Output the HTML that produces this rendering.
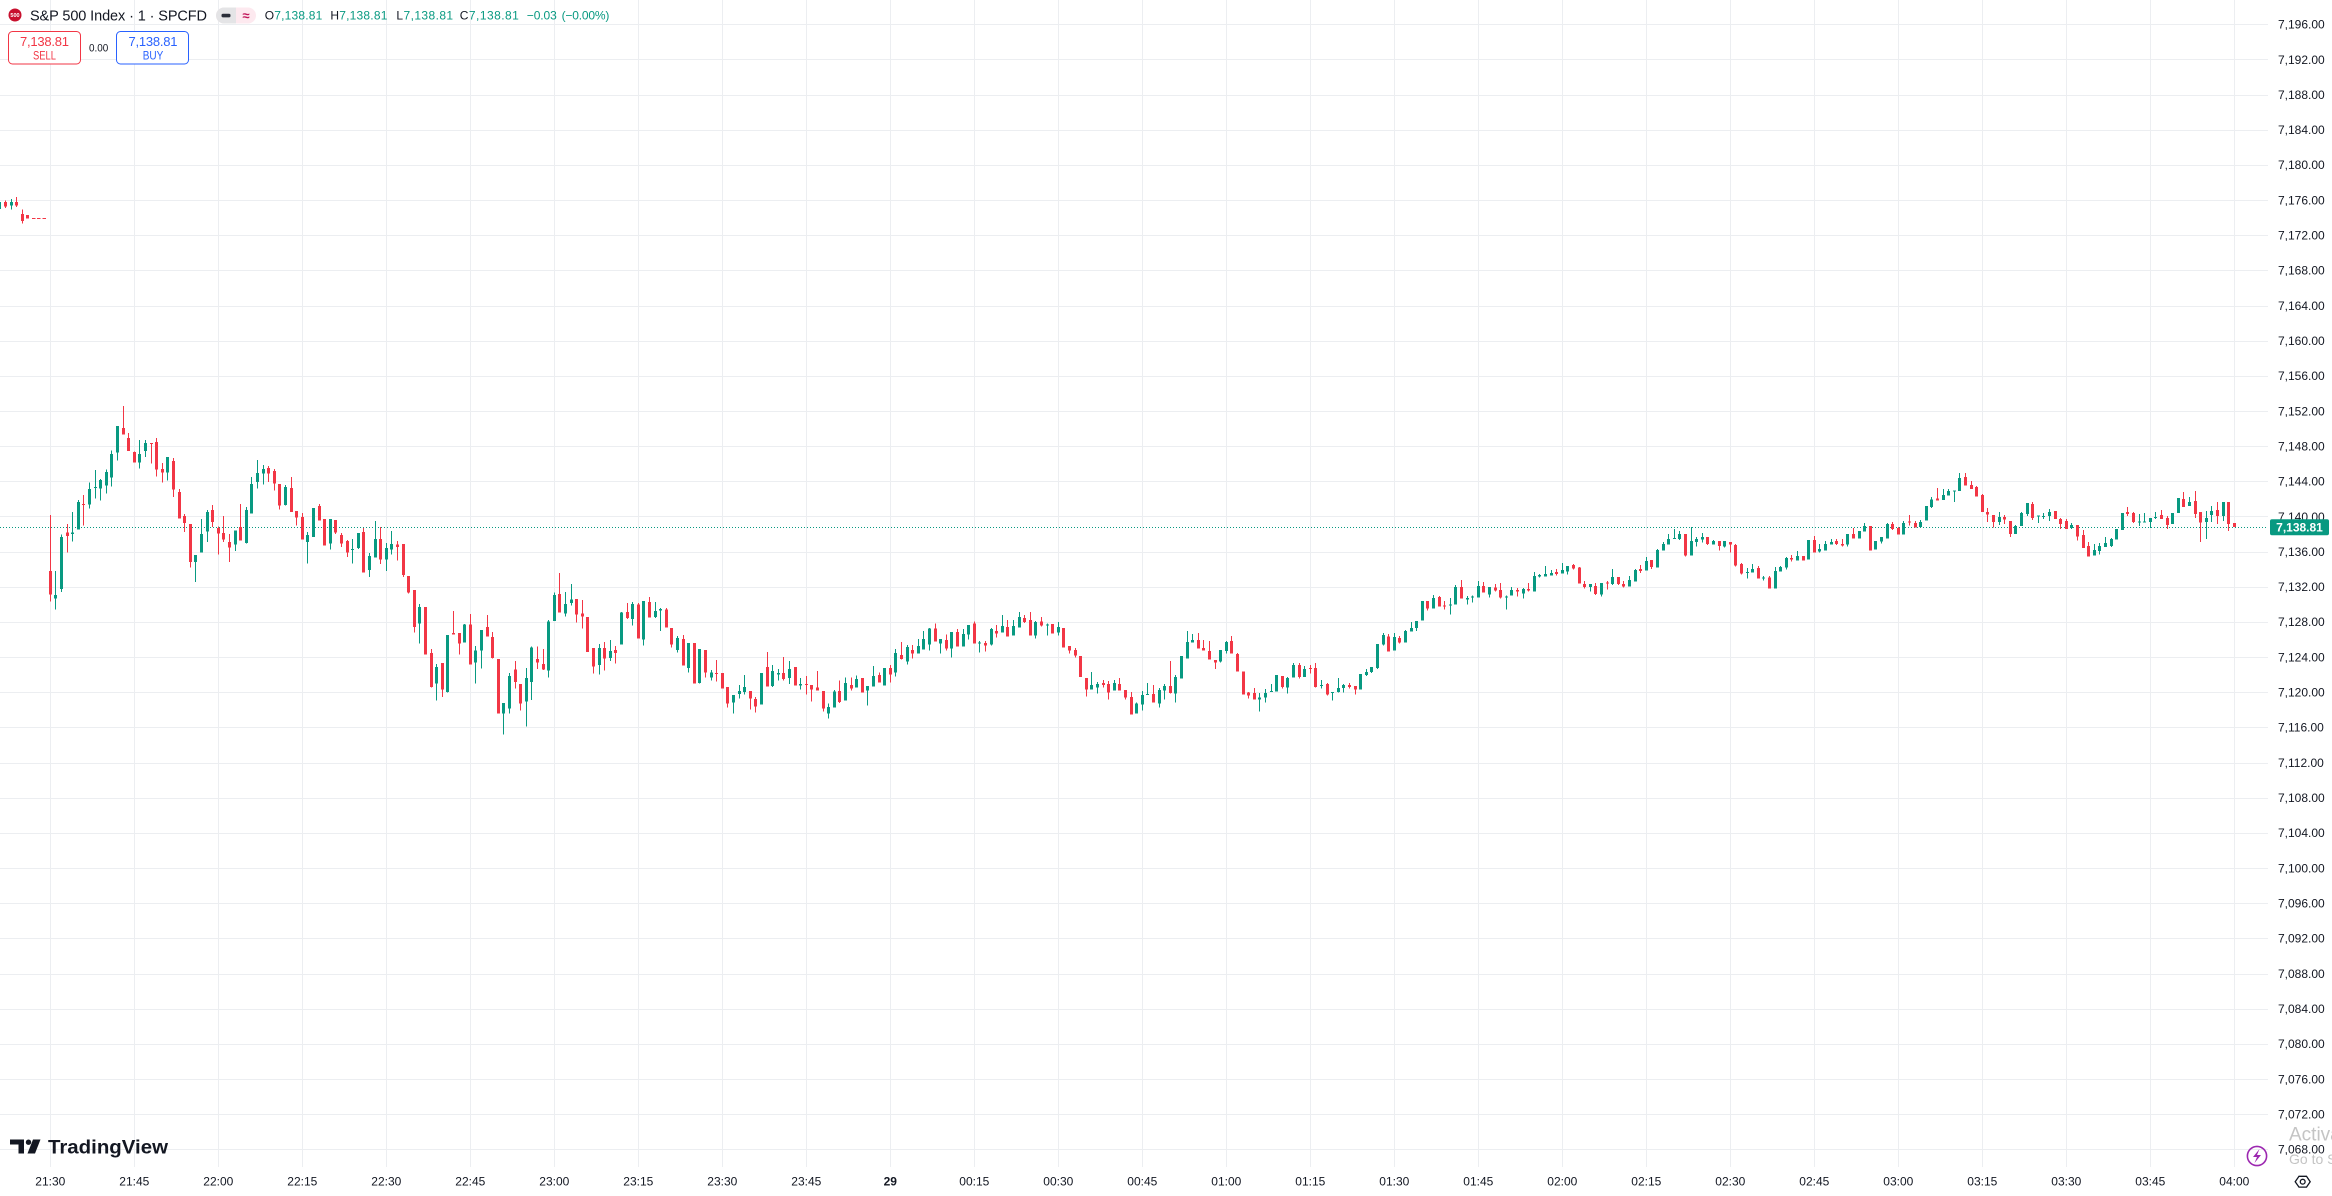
<!DOCTYPE html>
<html><head><meta charset="utf-8">
<style>
html,body{margin:0;padding:0;background:#fff;width:2332px;height:1196px;overflow:hidden;}
svg{position:absolute;left:0;top:0;}
svg text{font-family:"Liberation Sans",Arial,sans-serif;}
</style></head><body>
<svg id="s" width="2332" height="1196" viewBox="0 0 2332 1196">
<rect x="0" y="0" width="2332" height="1196" fill="#ffffff"/>
<g id="grid" shape-rendering="crispEdges"></g>
<line x1="0" y1="527.5" x2="2268" y2="527.5" stroke="#089981" stroke-width="1" stroke-dasharray="1 2" shape-rendering="crispEdges"/>
<line x1="32" y1="218.5" x2="47" y2="218.5" stroke="#f23645" stroke-width="1" stroke-dasharray="3.5 1.7" shape-rendering="crispEdges"/>
<g id="cd" shape-rendering="crispEdges"></g>

<!-- header -->
<circle cx="15" cy="15" r="6.5" fill="#c8102e"/>
<text x="15" y="17" font-size="5.5" font-weight="bold" fill="#fff" text-anchor="middle">500</text>
<text x="30" y="20.7" font-size="14.5" fill="#131722" textLength="177">S&amp;P 500 Index · 1 · SPCFD</text>
<rect x="216" y="7.5" width="40" height="16" rx="8" fill="#fde9ef"/>
<path d="M224,7.5 H236 V23.5 H224 A8,8 0 0 1 224,7.5 Z" fill="#e4e4e6"/>
<rect x="221.5" y="13.8" width="9" height="3.6" rx="1.5" fill="#2a2e39"/>
<text x="246" y="20" font-size="13" font-weight="bold" fill="#c2185b" text-anchor="middle">≈</text>
<text x="264.7" y="19.7" font-size="12" textLength="57.6"><tspan fill="#131722">O</tspan><tspan fill="#089981">7,138.81</tspan></text>
<text x="330.4" y="19.7" font-size="12" textLength="57"><tspan fill="#131722">H</tspan><tspan fill="#089981">7,138.81</tspan></text>
<text x="396.4" y="19.7" font-size="12" textLength="56.7"><tspan fill="#131722">L</tspan><tspan fill="#089981">7,138.81</tspan></text>
<text x="459.8" y="19.7" font-size="12" textLength="59"><tspan fill="#131722">C</tspan><tspan fill="#089981">7,138.81</tspan></text>
<text x="526.8" y="19.7" font-size="12" fill="#089981" textLength="30">−0.03</text>
<text x="561.6" y="19.7" font-size="12" fill="#089981" textLength="47.8">(−0.00%)</text>

<rect x="8.5" y="31.5" width="72" height="32.5" rx="4" fill="#fff" stroke="#f23645" stroke-width="1"/>
<text x="44.5" y="46" font-size="13" fill="#f23645" text-anchor="middle" textLength="49">7,138.81</text>
<text x="44.5" y="59.3" font-size="11.5" fill="#f23645" text-anchor="middle" textLength="23" lengthAdjust="spacingAndGlyphs">SELL</text>
<text x="89" y="51.7" font-size="11" fill="#131722" textLength="19.3" lengthAdjust="spacingAndGlyphs">0.00</text>
<rect x="116.5" y="31.5" width="72" height="32.5" rx="4" fill="#fff" stroke="#2962ff" stroke-width="1"/>
<text x="153" y="46" font-size="13" fill="#2962ff" text-anchor="middle" textLength="49">7,138.81</text>
<text x="153" y="59.3" font-size="11.5" fill="#2962ff" text-anchor="middle" textLength="20.6" lengthAdjust="spacingAndGlyphs">BUY</text>

<!-- price axis labels -->
<g font-size="12" fill="#131722">
<text x="2278" y="28.6">7,196.00</text>
<text x="2278" y="63.8">7,192.00</text>
<text x="2278" y="98.9">7,188.00</text>
<text x="2278" y="134.1">7,184.00</text>
<text x="2278" y="169.2">7,180.00</text>
<text x="2278" y="204.4">7,176.00</text>
<text x="2278" y="239.5">7,172.00</text>
<text x="2278" y="274.7">7,168.00</text>
<text x="2278" y="309.8">7,164.00</text>
<text x="2278" y="345.0">7,160.00</text>
<text x="2278" y="380.2">7,156.00</text>
<text x="2278" y="415.3">7,152.00</text>
<text x="2278" y="450.5">7,148.00</text>
<text x="2278" y="485.6">7,144.00</text>
<text x="2278" y="520.8">7,140.00</text>
<text x="2278" y="555.9">7,136.00</text>
<text x="2278" y="591.1">7,132.00</text>
<text x="2278" y="626.2">7,128.00</text>
<text x="2278" y="661.4">7,124.00</text>
<text x="2278" y="696.6">7,120.00</text>
<text x="2278" y="731.7">7,116.00</text>
<text x="2278" y="766.9">7,112.00</text>
<text x="2278" y="802.0">7,108.00</text>
<text x="2278" y="837.2">7,104.00</text>
<text x="2278" y="872.3">7,100.00</text>
<text x="2278" y="907.5">7,096.00</text>
<text x="2278" y="942.7">7,092.00</text>
<text x="2278" y="977.8">7,088.00</text>
<text x="2278" y="1013.0">7,084.00</text>
<text x="2278" y="1048.1">7,080.00</text>
<text x="2278" y="1083.3">7,076.00</text>
<text x="2278" y="1118.4">7,072.00</text>
<text x="2278" y="1153.6">7,068.00</text>
</g>
<rect x="2270" y="519.3" width="59" height="16" rx="2" fill="#089981"/>
<text x="2299.5" y="531.6" font-size="12" font-weight="bold" fill="#fff" text-anchor="middle">7,138.81</text>

<!-- time axis labels -->
<g font-size="12" fill="#131722" text-anchor="middle">
<text x="50.3" y="1185.3">21:30</text>
<text x="134.3" y="1185.3">21:45</text>
<text x="218.3" y="1185.3">22:00</text>
<text x="302.3" y="1185.3">22:15</text>
<text x="386.3" y="1185.3">22:30</text>
<text x="470.3" y="1185.3">22:45</text>
<text x="554.3" y="1185.3">23:00</text>
<text x="638.3" y="1185.3">23:15</text>
<text x="722.3" y="1185.3">23:30</text>
<text x="806.3" y="1185.3">23:45</text>
<text x="890.3" y="1185.3" font-weight="bold">29</text>
<text x="974.3" y="1185.3">00:15</text>
<text x="1058.3" y="1185.3">00:30</text>
<text x="1142.3" y="1185.3">00:45</text>
<text x="1226.3" y="1185.3">01:00</text>
<text x="1310.3" y="1185.3">01:15</text>
<text x="1394.3" y="1185.3">01:30</text>
<text x="1478.3" y="1185.3">01:45</text>
<text x="1562.3" y="1185.3">02:00</text>
<text x="1646.3" y="1185.3">02:15</text>
<text x="1730.3" y="1185.3">02:30</text>
<text x="1814.3" y="1185.3">02:45</text>
<text x="1898.3" y="1185.3">03:00</text>
<text x="1982.3" y="1185.3">03:15</text>
<text x="2066.3" y="1185.3">03:30</text>
<text x="2150.3" y="1185.3">03:45</text>
<text x="2234.3" y="1185.3">04:00</text>
</g>

<!-- TradingView logo -->
<path d="M10,1139.5 H24 V1153.5 H18.5 V1144.5 H10 Z" fill="#131722"/>
<circle cx="28.5" cy="1142.2" r="2.7" fill="#131722"/>
<path d="M33,1139.5 H40.5 L35,1153.5 H27.5 Z" fill="#131722"/>
<text x="48" y="1153.5" font-size="19" font-weight="bold" fill="#131722" textLength="120" lengthAdjust="spacingAndGlyphs">TradingView</text>

<!-- bottom right -->
<text x="2289" y="1140.7" font-size="19" fill="#c4c4c4">Activate Windows</text>
<text x="2289" y="1164" font-size="14" fill="#c4c4c4">Go to Settings to activate Windows.</text>
<circle cx="2257" cy="1156" r="9.6" fill="none" stroke="#9c27b0" stroke-width="1.6"/>
<path d="M2259.5,1149 L2253,1157 H2257 L2254.5,1163 L2261,1155 H2257 Z" fill="#9c27b0"/>
<polygon points="2295.2,1181.7 2299,1176.3 2306.5,1176.3 2310.2,1181.7 2306.5,1187.1 2299,1187.1" fill="none" stroke="#131722" stroke-width="1.3"/>
<circle cx="2302.7" cy="1181.7" r="2.4" fill="none" stroke="#131722" stroke-width="1.3"/>
</svg>
<script>
(function(){
var GC='#eceef1',g='';
for(var k=0;k<33;k++){var y=Math.round(24.3+35.156*k);g+='<rect x="0" y="'+y+'" width="2268" height="1" fill="'+GC+'"/>';}
for(var k=0;k<27;k++){var x=Math.round(50.3+84*k);g+='<rect x="'+x+'" y="0" width="1" height="1167" fill="'+GC+'"/>';}
document.getElementById('grid').innerHTML=g;

var PRE=[[-9,1,62,82,60,84],[-8,0,62,75,57,78],[-7,1,62,72,53,83],[-6,0,62,72,47,75],[-5,0,95,115,82,122],[-4,0,98,108,98,108]];
var A=[[0,1095,1160,938,1180],[1,1162,1172,1095,1203],[1,1000,1145,992,1153],[0,987,997,963,1043],[1,987,991,930,1013],[1,902,979,896,979],[0,907,910,882,968],[1,865,909,847,920],[1,860,862,812,892],[1,840,864,837,898],
[1,818,856,810,878],[1,767,833,757,858],[1,689,763,689,786],[0,694,713,633,713],[0,722,758,708,758],[0,762,791,760,791],[1,767,791,728,808],[1,736,758,728,775],[0,736,738,736,793],[0,734,811,722,830],
[0,809,819,792,847],[1,776,819,776,842],[0,787,867,778,888],[0,874,948,865,948],[0,941,961,935,985],[0,963,1070,963,1085],[1,1050,1069,1050,1125],[1,991,1043,949,1043],[1,930,985,924,1013],[0,924,957,910,972],
[0,974,990,970,1049],[0,988,1007,941,1014],[0,1014,1029,991,1069],[1,981,1021,981,1038],[0,972,1010,907,1010],[1,924,1016,916,1018],[1,851,934,832,934],[1,820,845,784,864],[1,809,822,798,853],[0,806,822,801,845],
[0,815,850,809,870],[0,851,912,851,923],[1,859,910,854,912],[0,862,930,832,930],[0,927,945,927,968],[0,944,1007,932,1007],[1,994,1013,986,1074],[1,918,999,918,999],[0,913,954,907,954],[0,949,1024,949,1024],
[1,949,1018,949,1035],[0,952,987,952,991],[0,994,1018,988,1027],[0,1011,1043,1008,1055],[1,1033,1035,1005,1074],[1,988,1030,988,1033],[0,986,1099,975,1099],[1,1053,1092,1044,1111],[1,1005,1057,955,1057],[0,1005,1063,972,1075],
[1,1030,1063,1016,1094],[1,1019,1035,983,1049],[0,1020,1027,1011,1066],[0,1019,1106,1019,1111],[0,1109,1155,1109,1158],[0,1148,1251,1148,1267],[1,1195,1242,1187,1298],[0,1195,1329,1195,1329],[0,1324,1419,1313,1421],[1,1364,1410,1355,1458],
[0,1352,1427,1352,1447],[1,1274,1433,1274,1435],[0,1268,1272,1207,1272],[0,1268,1297,1268,1329],[1,1245,1295,1243,1295],[0,1245,1357,1215,1357],[1,1318,1351,1305,1410],[1,1260,1318,1260,1368],[0,1251,1278,1218,1278],[0,1280,1338,1266,1340],
[0,1341,1494,1341,1494],[1,1464,1494,1464,1553],[1,1389,1480,1380,1494],[0,1370,1405,1347,1424]];
var B=[[0,732,791,732,812],[1,714,785,684,860],[1,623,726,620,780],[0,657,668,620,687],[0,672,688,627,690],[1,545,692,540,713],
[1,465,543,457,543],[0,462,518,399,518],[1,492,521,456,530],[1,478,489,432,497],[0,477,524,477,548],[0,521,530,480,566],[0,531,636,531,636],[0,624,680,624,701],[1,624,675,612,704],[0,624,656,606,692],
[1,633,654,600,663],[0,630,639,618,671],[1,518,614,516,614],[0,516,534,489,537],[1,492,537,486,557],[0,494,596,489,596],[1,483,599,483,617],[0,486,533,471,533],[1,513,531,486,534],[1,507,512,504,573],
[0,509,563,504,563],[0,564,614,564,623],[1,594,630,588,638],[0,597,677,585,677],[1,609,684,609,698],[0,609,731,609,731],[1,627,729,627,731],[0,630,698,630,713],[1,697,713,690,722],[0,699,701,660,725],
[0,699,746,699,746],[0,741,791,741,803],[1,765,788,765,821],[1,753,762,735,776],[1,741,756,705,764],[0,753,776,753,809],[0,777,800,771,818],[1,699,794,699,794],[0,681,740,636,740],[1,693,738,675,741],
[1,699,704,687,722],[0,699,717,651,722],[1,687,714,663,732],[0,681,737,681,737],[1,732,737,714,749],[0,732,734,708,764],[0,735,749,735,785],[0,743,752,693,752],[0,753,806,753,815],[1,801,821,791,836],
[1,755,803,750,803],[0,753,786,722,789],[1,729,782,713,782],[0,735,746,713,752],[1,717,743,707,743],[0,714,758,714,758],[1,738,752,738,797],[1,708,740,678,740],[0,705,728,698,728],[1,684,737,684,737],
[0,684,704,675,728],[1,639,698,627,710],[0,645,657,606,659],[1,621,665,615,674],[0,630,641,615,656],[1,618,641,597,641],[1,597,629,573,629],[1,566,614,564,632],[0,566,605,551,605],[1,597,611,597,641],
[0,600,626,584,632],[1,576,626,576,653],[0,576,620,567,620],[1,582,620,567,620],[1,555,584,555,599],[0,551,611,545,611],[1,608,610,603,638],[0,609,617,603,635],[1,567,614,564,617],[0,573,581,555,593],
[1,558,578,525,578],[0,561,590,540,590],[1,558,587,540,587],[1,531,563,516,563],[0,534,546,525,549],[0,540,587,516,587],[1,546,587,543,596],[0,544,557,531,560],[1,553,556,551,587],[0,552,581,552,581],
[1,561,578,546,587],[0,564,623,564,623],[0,618,632,618,641],[0,630,647,624,653],[0,648,711,648,711],[0,714,749,714,770],[1,735,749,696,749],[1,732,743,726,761],[0,729,735,720,743],[0,732,758,723,779],
[1,729,752,720,752],[0,732,752,714,752],[0,750,773,750,779],[0,771,824,756,824],[1,791,821,788,821],[1,765,794,753,812],[1,762,764,729,764],[0,762,788,735,788],[1,750,791,744,803],[1,738,752,732,779],
[0,738,759,663,761],[1,711,761,705,788],[1,648,716,648,716],[1,606,656,573,656],[1,600,608,582,608],[0,600,626,579,626],[0,624,632,600,632],[0,633,659,603,659],[0,660,668,660,687],[1,630,665,630,668],
[1,606,633,603,641],[0,603,641,588,641],[0,642,695,639,695],[0,695,764,695,764],[0,758,767,756,776],[0,759,779,744,779],[1,773,779,759,815],[1,759,773,747,788],[1,753,755,732,755],[1,705,755,705,755],
[0,708,741,708,746],[1,714,743,711,761],[1,675,713,669,713],[0,675,711,669,716],[1,687,711,678,711],[0,684,687,675,701],[0,684,741,669,743],[1,735,737,720,746],[0,732,764,729,767],[1,756,758,756,782],
[1,744,756,714,758],[1,735,744,732,758],[0,735,741,729,746],[0,738,749,738,764],[1,702,749,702,749],[1,696,705,687,708],[1,681,696,681,699],[1,612,684,612,687],[1,585,614,579,617],[0,590,635,582,635],
[1,591,632,579,632],[0,594,608,588,611],[1,573,608,570,608],[1,564,575,546,575],[1,543,564,543,573],[1,483,542,483,542],[0,483,506,483,512],[1,474,506,465,506],[0,471,500,468,500],[0,497,500,483,509],
[1,494,496,474,524],[1,441,494,435,494],[0,441,476,420,476],[1,474,479,468,494],[1,470,472,467,488],[1,438,473,423,473],[0,438,458,426,458],[1,441,464,441,473],[0,443,452,432,455],[0,450,473,429,476],
[1,469,471,467,509],[1,450,467,441,467],[0,450,455,444,470],[1,447,461,444,476],[0,447,452,429,455],[1,408,455,396,455],[1,405,409,402,412],[1,402,410,378,410],[1,399,407,390,407],[0,396,402,387,407],
[1,390,401,369,401],[1,378,395,378,404],[0,375,386,372,389],[0,383,431,381,431],[0,432,441,423,446],[1,432,441,432,455],[0,438,462,429,465],[1,429,464,429,470],[0,428,431,423,449],[1,411,432,387,435],
[0,411,432,411,435],[0,432,440,423,443],[1,420,440,408,440],[1,390,425,387,425],[0,387,393,375,399],[1,363,392,351,392],[0,360,381,360,387],[1,330,383,327,383],[1,312,332,306,332],[1,297,314,282,314],
[1,294,296,267,296],[1,282,297,273,300],[0,282,347,282,350],[1,303,347,261,347],[1,297,306,291,320],[1,291,299,279,308],[0,291,312,291,315],[1,303,314,300,314],[0,303,318,303,332],[1,303,320,303,323],
[0,306,314,306,338],[0,315,377,312,380],[0,372,401,369,404],[1,396,398,384,416],[1,387,398,372,398],[0,384,416,378,416],[1,413,415,408,422],[0,413,446,408,446],[1,393,446,381,446],[1,381,395,378,395],
[1,354,383,351,389],[0,354,359,345,365],[1,348,362,333,362],[0,348,362,348,362],[1,300,359,300,359],[0,300,338,288,338],[1,327,335,312,338],[1,312,332,303,332],[1,306,314,297,314],[0,303,312,297,315],
[0,312,317,297,320],[1,282,314,282,320],[0,282,296,264,296],[1,273,296,273,296],[1,258,275,249,275],[0,258,332,258,332],[1,303,329,303,329],[1,291,305,291,311],[1,252,296,249,296],[0,252,267,246,270],
[0,264,284,261,284],[1,249,284,243,284],[0,245,248,225,257],[0,249,263,243,263],[1,246,261,240,261],[1,198,242,198,242],[1,178,201,171,204],[0,175,182,144,182],[1,165,180,147,180],[1,153,167,147,167],
[1,151,153,151,186],[1,114,153,99,153],[0,111,137,99,137],[0,135,147,123,147],[0,141,170,138,170],[0,165,216,162,216],[0,216,224,204,246],[0,225,246,225,263],[1,231,246,216,255],[0,231,239,225,252],
[0,243,282,243,291],[1,258,282,255,282],[1,219,258,216,258],[1,189,222,189,228],[0,192,234,186,240],[1,226,228,226,249],[1,228,230,219,237],[1,216,228,207,243],[0,213,237,213,237],[0,237,252,234,267],
[0,243,267,237,267],[1,255,264,249,267],[0,255,290,255,302],[0,285,324,270,324],[0,318,350,306,350],[1,330,347,312,347],[1,318,333,309,344],[1,309,321,291,321],[1,297,318,294,321],[1,267,299,267,299],
[1,219,270,219,270],[0,216,222,201,228],[0,219,246,216,249],[1,245,247,222,258],[1,245,247,219,247],[1,234,246,234,264],[1,231,233,216,237],[0,225,237,210,237],[0,234,255,228,267],[1,219,252,219,252],
[1,174,219,174,219],[0,177,201,156,201],[1,186,198,171,198],[0,183,222,153,234],[0,216,247,216,306],[1,234,246,213,297],[1,213,225,198,246],[0,210,228,186,252],[1,186,228,186,243],[0,186,252,186,273],
[0,249,261,249,261]];
var s='';
function draw(i,d,base,sc){
  var cx=Math.floor(50.3+5.6*i);
  var col=d[0]?'#089981':'#f23645';
  var bt=base+d[1]/sc,bb=base+d[2]/sc;
  var wt=base+Math.min(d[3],d[1])/sc,wb=base+Math.max(d[4],d[2])/sc;
  var bh=Math.max(1,bb-bt);
  s+='<rect x="'+cx+'" y="'+wt.toFixed(1)+'" width="1" height="'+Math.max(1,wb-wt).toFixed(1)+'" fill="'+col+'"/>';
  s+='<rect x="'+(cx-1)+'" y="'+bt.toFixed(1)+'" width="3" height="'+bh.toFixed(1)+'" fill="'+col+'"/>';
}
for(var j=0;j<PRE.length;j++){var p=PRE[j];draw(p[0],p.slice(1),180,2.8);}
for(var j=0;j<A.length;j++){draw(j,A[j],180,2.8);}
for(var j=0;j<B.length;j++){draw(84+j,B[j],440,3);}
document.getElementById('cd').innerHTML=s;
})();
</script>
</body></html>
